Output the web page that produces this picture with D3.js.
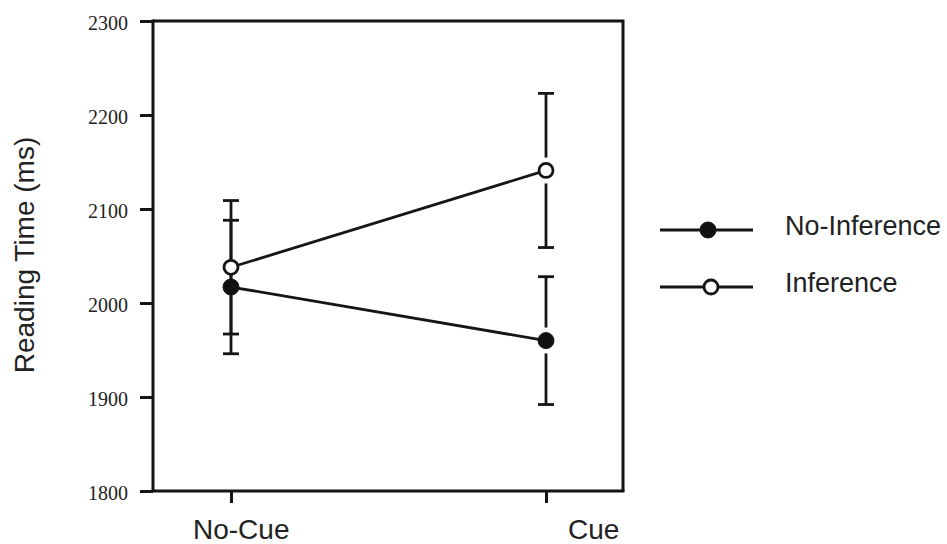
<!DOCTYPE html>
<html>
<head>
<meta charset="utf-8">
<script src="https://cdn.jsdelivr.net/npm/d3@7"></script>
<style>
  body { margin: 0; background: #fff; }
  .tick-label { font-family: "Liberation Serif", "Times New Roman", serif; font-size: 20px; fill: #222; }
  .sans { font-family: "Liberation Sans", Arial, sans-serif; fill: #222; }
</style>
</head>
<body>
<div class="chart"></div>
<script>
// Reading time by cue condition

var conditions = ["No-Cue", "Cue"];
var seriesNames = ["No-Inference", "Inference"];

// means and error bar half-widths (ms)
var noInferenceMeans = [2017, 1960];
var noInferenceErr = [71, 68];
var inferenceMeans = [2038, 2141];
var inferenceErr = [71, 82];

var yTicks = [1800, 1900, 2000, 2100, 2200, 2300];

var svgWidth = 947;
var svgHeight = 544;

var margin = { top: 21, right: 324, bottom: 53, left: 153 };
var width = svgWidth - margin.left - margin.right;
var height = svgHeight - margin.top - margin.bottom;

var svg = d3.select(".chart")
  .append("svg")
  .attr("width", svgWidth)
  .attr("height", svgHeight);

var chartGroup = svg.append("g")
  .attr("transform", `translate(${margin.left}, ${margin.top})`);

var xScale = d3.scalePoint()
  .domain(conditions)
  .range([78, 393]);

var yScale = d3.scaleLinear()
  .domain([1800, 2300])
  .range([height, 0]);

var series = [
  { name: seriesNames[0], means: noInferenceMeans, err: noInferenceErr, fill: "#111" },
  { name: seriesNames[1], means: inferenceMeans, err: inferenceErr, fill: "#fff" }
];

var stroke = "#151515";

// box (top + right border)
chartGroup.append("path")
  .attr("d", `M0,0H${width}V${height}`)
  .attr("fill", "none")
  .attr("stroke", stroke)
  .attr("stroke-width", 3);

// axes
var leftAxis = d3.axisLeft(yScale).tickValues(yTicks).tickSize(13).tickPadding(12)
  .tickFormat(d3.format("d"));
var bottomAxis = d3.axisBottom(xScale).tickSize(12).tickFormat("");

var yAxis = chartGroup.append("g").call(leftAxis);
yAxis.select(".domain").attr("stroke", stroke).attr("stroke-width", 3)
  .attr("d", `M0,-1.5V${height}`);
yAxis.selectAll(".tick line").attr("stroke", stroke).attr("stroke-width", 3);
yAxis.selectAll(".tick text")
  .attr("class", "tick-label")
  .attr("dy", "0.42em");

var xAxis = chartGroup.append("g")
  .attr("transform", `translate(0, ${height})`)
  .call(bottomAxis);
xAxis.select(".domain").attr("stroke", stroke).attr("stroke-width", 3)
  .attr("d", `M0,0H${width + 1.5}`);
xAxis.selectAll(".tick line").attr("stroke", stroke).attr("stroke-width", 3);

// x category labels
var labelOffsets = [-38, 22];
chartGroup.selectAll(".xlabel")
  .data(conditions)
  .enter()
  .append("text")
  .attr("class", "sans")
  .attr("x", (d, i) => xScale(d) + labelOffsets[i])
  .attr("y", height + 48)
  .style("font-size", "28px")
  .text(d => d);

// y axis title
svg.append("text")
  .attr("class", "sans")
  .attr("transform", "translate(34, 255) rotate(-90)")
  .attr("text-anchor", "middle")
  .style("font-size", "28px")
  .text("Reading Time (ms)");

// error bars
var capHalf = 8;
series.forEach(function(s) {
  var g = chartGroup.append("g");
  conditions.forEach(function(c, i) {
    var x = xScale(c);
    var y0 = yScale(s.means[i] - s.err[i]);
    var y1 = yScale(s.means[i] + s.err[i]);
    g.append("line").attr("x1", x).attr("x2", x).attr("y1", y0).attr("y2", y1);
    g.append("line").attr("x1", x - capHalf).attr("x2", x + capHalf).attr("y1", y0).attr("y2", y0);
    g.append("line").attr("x1", x - capHalf).attr("x2", x + capHalf).attr("y1", y1).attr("y2", y1);
  });
  g.selectAll("line").attr("stroke", stroke).attr("stroke-width", 2.8);
});

// white halos around the Cue points
series.forEach(function(s) {
  chartGroup.append("circle")
    .attr("cx", xScale(conditions[1]))
    .attr("cy", yScale(s.means[1]))
    .attr("r", 13)
    .attr("fill", "#fff");
});

// lines
var line = d3.line()
  .x((d, i) => xScale(conditions[i]))
  .y(d => yScale(d));

series.forEach(function(s) {
  chartGroup.append("path")
    .datum(s.means)
    .attr("d", line)
    .attr("fill", "none")
    .attr("stroke", stroke)
    .attr("stroke-width", 2.8);
});

// markers
series.forEach(function(s) {
  chartGroup.selectAll(null)
    .data(s.means)
    .enter()
    .append("circle")
    .attr("cx", (d, i) => xScale(conditions[i]))
    .attr("cy", d => yScale(d))
    .attr("r", s.fill === "#fff" ? 7 : 8)
    .attr("fill", s.fill)
    .attr("stroke", stroke)
    .attr("stroke-width", s.fill === "#fff" ? 2.8 : 1);
});

// legend
var legend = svg.append("g").attr("transform", "translate(660, 230)");
var legendY = d3.scalePoint().domain(seriesNames).range([0, 57]);
series.forEach(function(s) {
  var y = legendY(s.name);
  legend.append("line")
    .attr("x1", 0).attr("x2", 93)
    .attr("y1", y).attr("y2", y)
    .attr("stroke", stroke)
    .attr("stroke-width", 2.8);
  legend.append("circle")
    .attr("cx", s.fill === "#fff" ? 51 : 48)
    .attr("cy", y)
    .attr("r", s.fill === "#fff" ? 7 : 8)
    .attr("fill", s.fill)
    .attr("stroke", stroke)
    .attr("stroke-width", s.fill === "#fff" ? 2.8 : 1);
  legend.append("text")
    .attr("class", "sans")
    .attr("x", 125)
    .attr("y", y + 5)
    .style("font-size", "27px")
    .text(s.name);
});
</script>
</body>
</html>
